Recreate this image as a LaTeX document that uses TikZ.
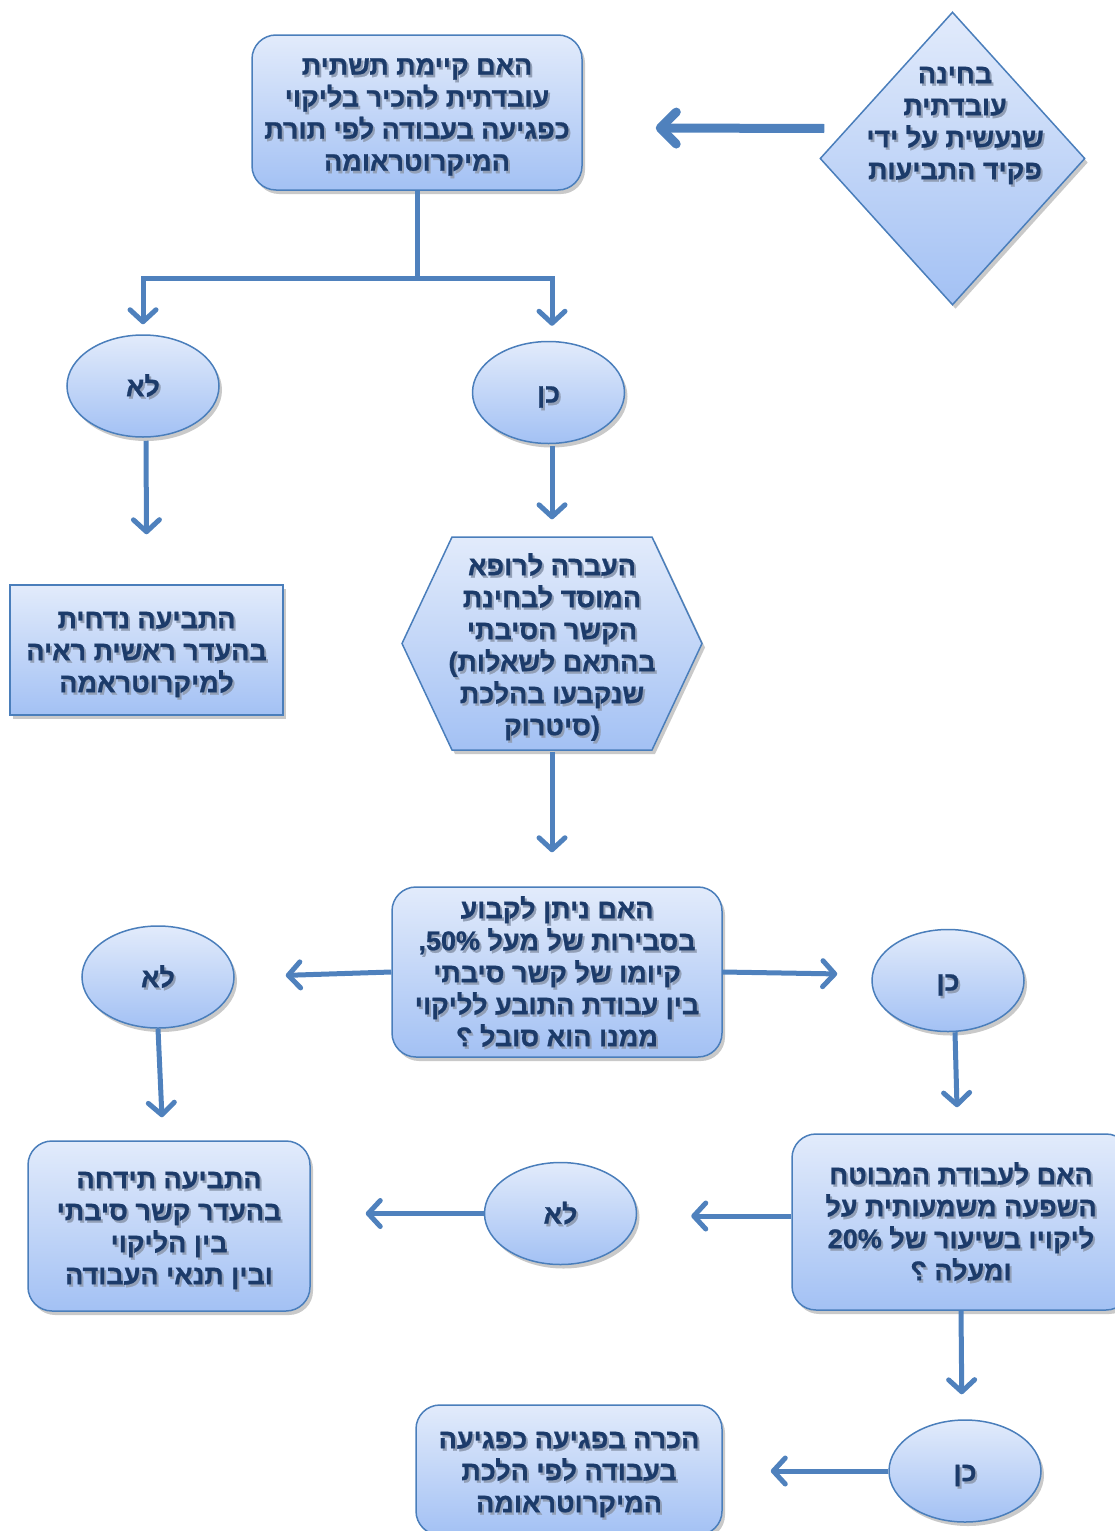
\documentclass[tikz,border=0pt]{standalone}
\usepackage{fontspec}
\usepackage{graphicx}
\usetikzlibrary{shapes.geometric,arrows.meta,shadows}
\TeXXeTstate=1
\newfontfamily\hebfont[Script=Hebrew,FakeBold=0.8]{Liberation Sans Bold}
\newfontfamily\latfont[FakeBold=0.8]{Liberation Sans Bold}
\definecolor{tblue}{HTML}{1C3B6A}
\definecolor{tshadow}{HTML}{929FB6}
\definecolor{edgec}{HTML}{4A7EBB}
\definecolor{arrc}{HTML}{4F81BD}
\definecolor{ftop}{HTML}{E2EBFB}
\definecolor{fbot}{HTML}{A3C1F4}
\newcommand\rl[1]{\beginR#1\endR}
\newcommand\tlines[1]{\begin{tabular}{@{}c@{}}#1\end{tabular}}
\newcommand\shtxt[1]{\raisebox{-5pt}[\height][\depth]{\leavevmode\rlap{\kern2pt\raisebox{-2.5pt}{\color{tshadow}\tlines{#1}}}\tlines{#1}}}
\newcommand\qmk{{\latfont\reflectbox{?}}}
\tikzset{
  hebtext/.style={text=tblue, font=\hebfont\fontsize{27}{32}\selectfont, inner sep=0pt},
  shapebase/.style={hebtext, draw=edgec, line width=1.5pt, top color=ftop, bottom color=fbot,
    drop shadow={shadow xshift=3pt, shadow yshift=-4pt, opacity=0.3, fill=black!70}},
  rbox/.style={shapebase, rectangle, rounded corners=24pt},
  sbox/.style={shapebase, rectangle},
  oval/.style={shapebase, ellipse, minimum width=152pt, minimum height=102pt},
  conn/.style={draw=arrc, line width=5pt},
  arrw/.style={conn, -{Straight Barb[length=12pt,width=26pt,round]}},
  bigarrw/.style={draw=arrc, line width=9pt, -{Straight Barb[length=16pt,width=32pt,round]}}
}
\begin{document}
\begin{tikzpicture}[x=1pt,y=-1pt]
\useasboundingbox (0,0) rectangle (1115,1531);
\clip (0,0) rectangle (1115,1531);

% top question
\node[rbox, minimum width=330pt, minimum height=155pt] (q1) at (417,112.5)
  {\shtxt{\rl{האם קיימת תשתית}\\\rl{עובדתית להכיר בליקוי}\\\rl{כפגיעה בעבודה לפי תורת}\\\rl{המיקרוטראומה}}};

% diamond
\node[shapebase, diamond, minimum width=265pt, minimum height=293pt] (dia) at (952.5,158.5) {};
\node[hebtext] (diat) at (955,121)
  {\shtxt{\rl{בחינה}\\\rl{עובדתית}\\\rl{שנעשית על ידי}\\\rl{פקיד התביעות}}};

\draw[bigarrw] ([xshift=5pt,yshift=30pt]dia.west) -- ([xshift=73pt,yshift=-15.5pt]q1.east);

% first branch
\node[oval] (no1) at (143,386) {\shtxt{\rl{לא}}};
\node[oval] (yes1) at (548.5,392.5) {\shtxt{\rl{כן}}};
\coordinate (j1) at ([yshift=-88pt]q1.south);
\draw[conn] (q1.south) -- (j1);
\draw[arrw] ([xshift=2.5pt]j1) -| ([yshift=10pt]no1.north);
\draw[arrw] ([xshift=-2.5pt]j1) -| ([xshift=3.5pt,yshift=15pt]yes1.north);

% reject box
\node[sbox, minimum width=273pt, minimum height=130pt] (rej) at (146.5,650)
  {\shtxt{\rl{התביעה נדחית}\\\rl{בהעדר ראשית ראיה}\\\rl{למיקרוטראמה}}};
\draw[arrw] ([xshift=3pt,yshift=-3pt]no1.south) -- ([yshift=50pt]rej.north);

% hexagon
\path[shapebase] (452,537) -- (652,537) -- (702,643.5) -- (652,750) -- (452,750) -- (402,643.5) -- cycle;
\node[hebtext, minimum width=300pt, minimum height=213pt] (hex) at (552,645)
  {\shtxt{\rl{העברה לרופא}\\\rl{המוסד לבחינת}\\\rl{הקשר הסיבתי}\\{\latfont(}\rl{בהתאם לשאלות}\\\rl{שנקבעו בהלכת}\\\rl{סיטרוק}{\latfont)}}};
\draw[arrw] ([xshift=3.5pt,yshift=-2pt]yes1.south) -- ([yshift=19pt]hex.north);

% second question
\node[rbox, minimum width=330pt, minimum height=170pt] (q2) at (557,972)
  {\shtxt{\rl{האם ניתן לקבוע}\\\rl{בסבירות של מעל \beginL50\%\endL,}\\\rl{קיומו של קשר סיבתי}\\\rl{בין עבודת התובע לליקוי}\\\qmk\ \rl{ממנו הוא סובל}}};
\draw[arrw, shorten >=34pt] (hex.south) -- (hex.south |- q2.north);

\node[oval] (no2) at (158,977) {\shtxt{\rl{לא}}};
\node[oval] (yes2) at (948,980.5) {\shtxt{\rl{כן}}};
\draw[arrw, shorten >=51pt] (q2.west) -- (no2.east);
\draw[arrw, shorten >=34pt] (q2.east) -- ([yshift=6pt]yes2.west);

% reject 2
\node[rbox, minimum width=282pt, minimum height=170pt] (rej2) at (169,1226)
  {\shtxt{\rl{התביעה תידחה}\\\rl{בהעדר קשר סיבתי}\\\rl{בין הליקוי}\\\rl{ובין תנאי העבודה}}};
\draw[arrw, shorten >=23pt] (no2.south) -- ([xshift=-6pt]rej2.north);

% third question
\node[rbox, minimum width=338pt, minimum height=176pt] (q3) at (961,1222)
  {\shtxt{\rl{האם לעבודת המבוטח}\\\rl{השפעה משמעותית על}\\\rl{ליקויו בשיעור של \beginL20\%\endL}\\\qmk\ \rl{ומעלה}}};
\draw[arrw] ([xshift=7pt]yes2.south) -- ([xshift=-4pt,yshift=26pt]q3.north);

\node[oval] (no3) at (560.5,1213.5) {\shtxt{\rl{לא}}};
\draw[arrw, shorten >=54pt] ([yshift=6pt]q3.west) -- ([yshift=6pt]q3.west -| no3.east);
\draw[arrw, shorten >=55pt] (no3.west) -- (no3.west -| rej2.east);

% final
\node[oval] (yes3) at (965,1471) {\shtxt{\rl{כן}}};
\draw[arrw, shorten >=25pt] (q3.south) -- ([xshift=1pt]q3.south |- yes3.north);
\node[rbox, minimum width=306pt, minimum height=130pt] (fin) at (569,1470)
  {\shtxt{\rl{הכרה בפגיעה כפגיעה}\\\rl{בעבודה לפי הלכת}\\\rl{המיקרוטראומה}}};
\draw[arrw, shorten >=48pt] (yes3.west) -- (yes3.west -| fin.east);
\end{tikzpicture}
\end{document}
